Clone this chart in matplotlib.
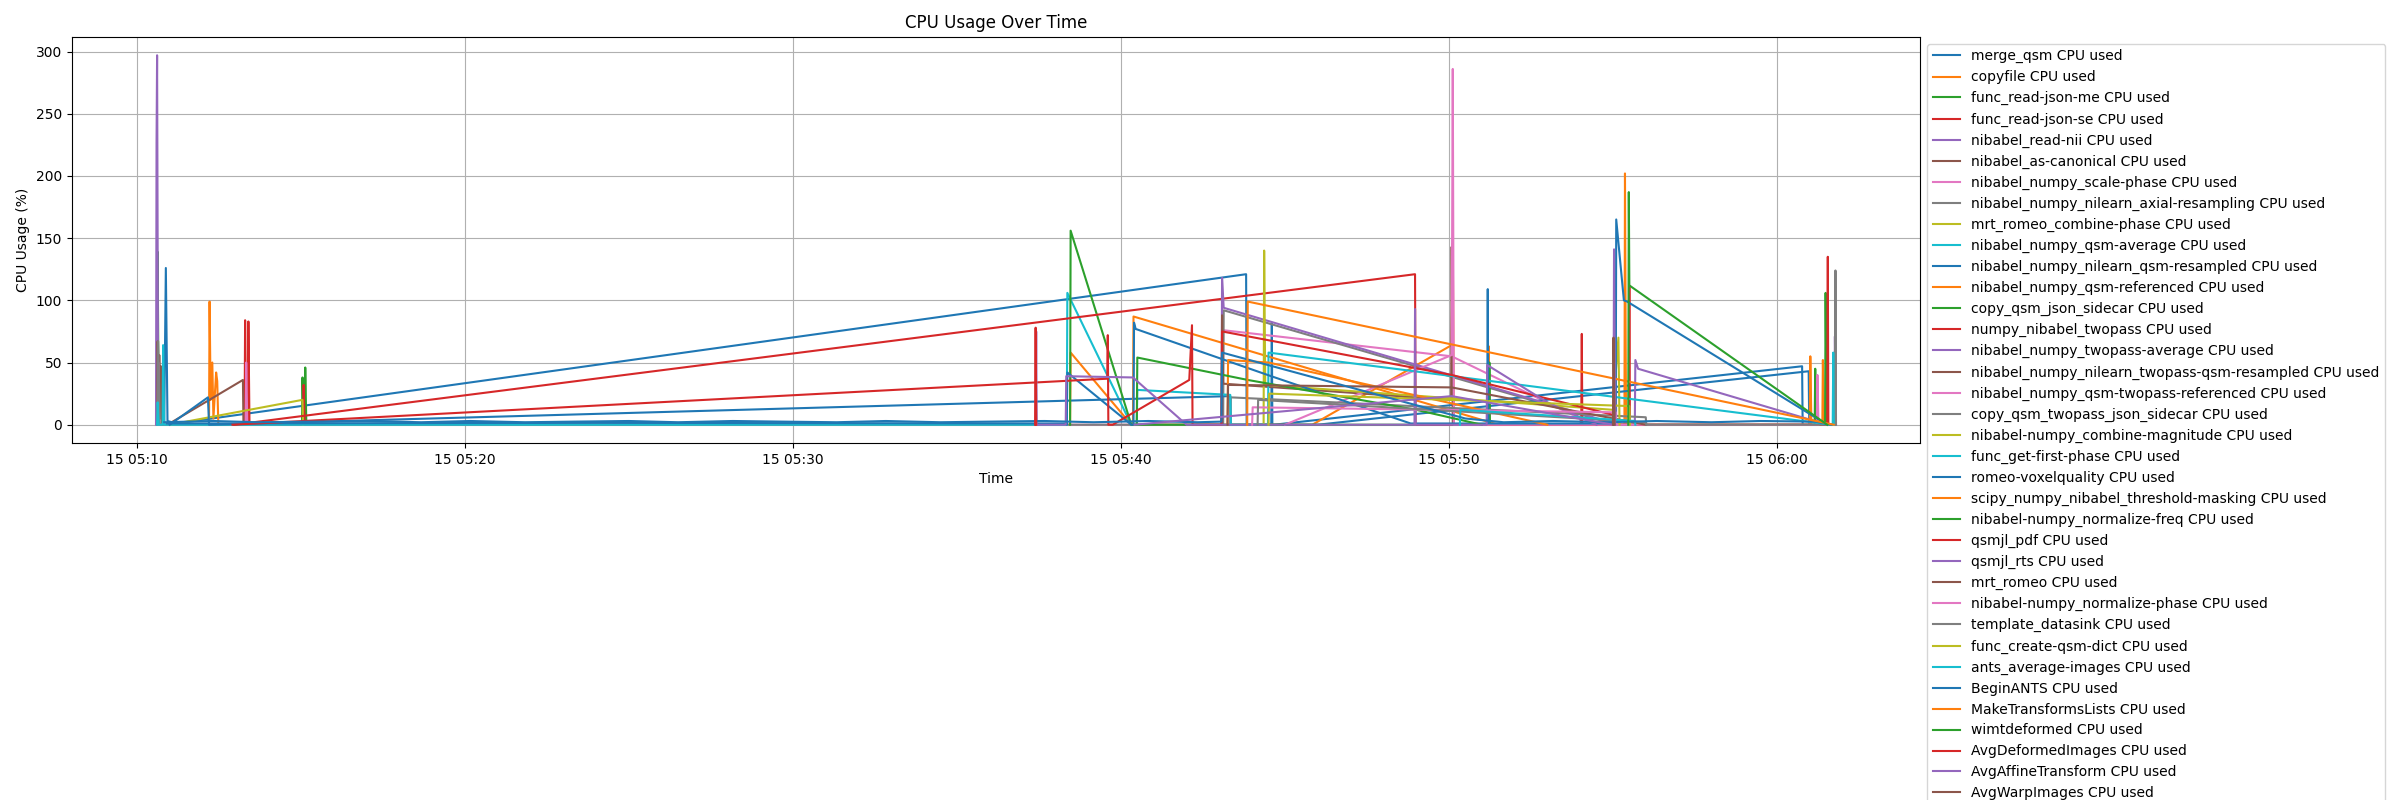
"""
CPU usage per workflow node over one pipeline run.
"""

import matplotlib

matplotlib.use("Agg")
import matplotlib.pyplot as plt
import pandas as pd

DAY = "2024-01-15 "

# ---- samples per node (time of sample, CPU %) ----
merge_qsm_t = ["05:10:50", "05:10:53", "05:10:56", "05:11:12", "05:43:49", "05:43:50",
               "05:44:35", "05:44:36", "05:44:37", "05:44:40", "06:00:46", "06:00:47"]
merge_qsm_cpu = [0, 126, 3, 1, 121, 0, 0, 82, 0, 0, 47, 0]

copyfile_t = ["05:12:12", "05:12:13", "05:12:15", "05:12:18", "05:12:20", "05:12:25", "05:12:27",
              "05:12:29", "05:38:27", "05:38:28", "05:40:19", "05:45:50", "05:50:05", "05:50:07",
              "05:50:09", "05:51:12", "05:51:13", "05:51:14", "05:55:21", "05:55:22", "05:55:24"]
copyfile_cpu = [0, 99, 20, 50, 5, 42, 35, 0, 0, 58, 0, 0, 64, 146, 0, 0, 63, 0, 0, 202, 0]

read_json_me_t = ["05:10:37", "05:10:38", "05:10:40", "05:15:02", "05:15:03", "05:15:05",
                  "05:15:07", "05:15:08", "05:15:10"]
read_json_me_cpu = [0, 139, 0, 0, 38, 0, 0, 46, 0]

read_json_se_t = ["05:13:17", "05:13:18", "05:13:20", "05:13:23", "05:13:24", "05:13:26",
                  "05:15:04", "05:15:05", "05:15:07"]
read_json_se_cpu = [0, 84, 0, 0, 83, 0, 0, 32, 0]

read_nii_t = ["05:10:35", "05:10:36", "05:10:37", "05:10:39", "05:10:45"]
read_nii_cpu = [0, 227, 297, 0, 0]

as_canonical_t = ["05:10:37", "05:10:38", "05:10:40", "05:10:41", "05:10:43", "05:10:44",
                  "05:10:46", "05:10:56", "05:13:14", "05:13:15"]
as_canonical_cpu = [0, 67, 10, 56, 5, 47, 0, 0, 36, 0]

scale_phase_t = ["05:10:38", "05:10:39", "05:10:41", "05:13:19", "05:13:20", "05:13:22",
                 "05:43:06", "05:43:07", "05:50:05", "05:54:00", "05:54:01"]
scale_phase_cpu = [0, 50, 0, 0, 50, 0, 0, 76, 55, 5, 0]

axial_resampling_t = ["05:10:38", "05:10:39", "05:10:42", "05:43:07", "05:43:08", "05:55:05"]
axial_resampling_cpu = [0, 67, 0, 0, 92, 0]

combine_phase_t = ["05:11:00", "05:15:03", "05:15:04"]
combine_phase_cpu = [0, 20, 0]

qsm_average_t = ["05:10:37", "05:10:38", "05:10:40", "05:10:47", "05:10:48", "05:10:50",
                 "05:38:21", "05:38:22", "05:40:19"]
qsm_average_cpu = [0, 18, 0, 0, 64, 0, 0, 106, 0]

qsm_resampled_t = ["05:11:00", "05:12:10", "05:12:12", "05:43:20", "05:43:21", "05:46:00",
                   "06:00:58", "06:00:59"]
qsm_resampled_cpu = [0, 22, 0, 23, 0, 0, 43, 0]

qsm_referenced_t = ["05:40:22", "05:40:23", "05:51:30", "06:01:00", "06:01:01", "06:01:03",
                    "06:01:23", "06:01:24", "06:01:26"]
qsm_referenced_cpu = [0, 87, 0, 0, 55, 0, 0, 52, 0]

json_sidecar_t = ["05:38:27", "05:38:28", "05:40:19", "05:51:13", "05:51:14", "05:51:15",
                  "06:01:09", "06:01:10", "06:01:12", "06:01:28", "06:01:29", "06:01:31"]
json_sidecar_cpu = [0, 156, 0, 0, 50, 0, 0, 45, 0, 0, 106, 0]

twopass_t = ["05:12:58", "05:48:58", "05:48:59", "05:54:02", "05:54:03", "05:54:04",
             "05:55:29", "05:55:30", "05:55:31", "06:01:32", "06:01:33", "06:01:34"]
twopass_cpu = [0, 121, 0, 0, 73, 0, 0, 112, 0, 0, 135, 0]

twopass_average_t = ["05:43:04", "05:43:05", "05:43:08", "05:55:10", "05:55:40", "05:55:41",
                     "05:55:46", "06:01:32", "06:01:45", "06:01:46", "06:01:48"]
twopass_average_cpu = [0, 118, 94, 0, 0, 52, 45, 0, 0, 71, 0]

twopass_resampled_t = ["05:43:04", "05:43:05", "05:43:07", "05:50:04", "05:50:05", "05:50:07"]
twopass_resampled_cpu = [0, 88, 33, 20, 143, 0]

twopass_referenced_t = ["05:45:00", "05:50:05", "05:50:07", "05:50:09", "05:55:03", "05:55:04",
                        "05:55:06", "06:01:13", "06:01:14", "06:01:16"]
twopass_referenced_cpu = [0, 56, 286, 0, 0, 111, 0, 0, 40, 0]

twopass_sidecar_t = ["05:43:20", "05:43:21", "05:56:00", "05:56:01", "06:01:46", "06:01:47",
                     "06:01:48"]
twopass_sidecar_cpu = [0, 22, 6, 0, 0, 124, 0]

combine_magnitude_t = ["05:44:21", "05:44:22", "05:44:24", "05:55:00", "05:55:10", "05:55:12"]
combine_magnitude_cpu = [0, 140, 32, 12, 70, 0]

first_phase_t = ["05:40:29", "05:40:30", "05:43:20", "05:43:21", "05:44:29", "05:44:30",
                 "06:01:40", "06:01:42", "06:01:43", "06:01:44"]
first_phase_cpu = [0, 28, 24, 0, 0, 58, 0, 0, 58, 0]

voxelquality_t = ["05:10:55", "05:24:00", "05:38:20", "05:38:21", "05:38:22", "05:40:19",
                  "05:40:23", "05:40:24", "05:40:27", "05:44:35", "05:48:50", "05:51:10",
                  "05:51:11", "05:51:12", "05:55:05", "05:55:06", "05:55:20", "05:55:26",
                  "06:01:32"]
voxelquality_cpu = [1, 1.5, 1, 0, 42, 0, 0, 82, 77, 39, 1, 1, 109, 1, 1, 165, 100, 99, 0]

threshold_masking_t = ["05:43:15", "05:43:16", "05:44:30", "05:53:00"]
threshold_masking_cpu = [0, 52, 50, 0]

normalize_freq_t = ["05:40:29", "05:40:30", "05:43:52", "05:49:00", "05:51:00"]
normalize_freq_cpu = [0, 54, 36, 12, 0]

qsmjl_pdf_t = ["05:12:55", "05:39:35", "05:39:36", "05:39:37", "05:39:45", "05:42:05",
               "05:42:10", "05:42:11", "05:43:04", "05:43:05", "05:50:05", "05:55:00", "05:55:01"]
qsmjl_pdf_cpu = [0, 37, 72, 0, 0, 36, 80, 0, 0, 75, 40, 8, 0]

qsmjl_rts_t = ["05:37:24", "05:37:25", "05:37:26", "05:38:19", "05:38:20", "05:40:22",
               "05:42:00", "05:48:57", "05:48:58", "05:48:59", "05:51:09", "05:51:10",
               "05:53:00", "05:54:30"]
qsmjl_rts_cpu = [0, 75, 0, 0, 39, 38, 0, 0, 93, 0, 0, 48, 18, 0]

mrt_romeo_t = ["05:43:15", "05:43:16", "05:50:05", "05:56:00"]
mrt_romeo_cpu = [0, 32, 30, 0]

normalize_phase_t = ["05:44:00", "05:44:01", "05:55:05", "05:55:06"]
normalize_phase_cpu = [0, 14, 10, 0]

datasink_t = ["05:44:10", "05:44:11", "05:56:00", "05:56:01"]
datasink_cpu = [0, 20, 2, 0]

qsm_dict_t = ["05:44:30", "05:44:31", "05:55:30", "05:55:31"]
qsm_dict_cpu = [0, 25, 15, 0]

ants_average_t = ["05:50:20", "05:50:21", "05:55:40", "05:55:41"]
ants_average_cpu = [0, 12, 3, 0]

begin_ants_t = ["05:10:50", "05:12:20", "05:13:40", "05:15:30", "05:17:00", "05:18:40",
                "05:20:10", "05:21:50", "05:23:20", "05:25:00", "05:26:30", "05:28:10",
                "05:29:40", "05:31:20", "05:32:50", "05:34:30", "05:36:00", "05:37:40",
                "05:39:10", "05:40:50", "05:42:20", "05:43:04", "05:43:05", "05:50:30",
                "05:51:40", "05:53:10", "05:54:50", "05:56:20", "05:58:00", "05:59:30",
                "06:01:10", "06:01:40"]
begin_ants_cpu = [2, 3, 2, 2.5, 3, 2, 3, 2, 2.5, 3, 2, 3, 2.5, 2, 3, 2, 2.5, 3, 2, 3, 2, 2.5,
                  58, 5, 2, 3, 2, 3, 2, 3, 2.5, 0]

transforms_lists_t = ["05:43:51", "05:43:52", "06:01:44"]
transforms_lists_cpu = [0, 99, 0]

wimtdeformed_t = ["05:55:28", "05:55:29", "05:55:30", "06:01:32"]
wimtdeformed_cpu = [0, 187, 112, 0]

avg_deformed_t = ["05:37:23", "05:37:24", "05:37:25"]
avg_deformed_cpu = [0, 78, 0]

avg_affine_t = ["05:40:25", "05:50:05", "05:55:01", "05:55:02", "05:55:04"]
avg_affine_cpu = [0, 23, 0, 141, 0]

avg_warp_t = ["05:55:00", "05:55:01", "05:55:03"]
avg_warp_cpu = [0, 70, 0]

nodes = [
    ("merge_qsm", merge_qsm_t, merge_qsm_cpu),
    ("copyfile", copyfile_t, copyfile_cpu),
    ("func_read-json-me", read_json_me_t, read_json_me_cpu),
    ("func_read-json-se", read_json_se_t, read_json_se_cpu),
    ("nibabel_read-nii", read_nii_t, read_nii_cpu),
    ("nibabel_as-canonical", as_canonical_t, as_canonical_cpu),
    ("nibabel_numpy_scale-phase", scale_phase_t, scale_phase_cpu),
    ("nibabel_numpy_nilearn_axial-resampling", axial_resampling_t, axial_resampling_cpu),
    ("mrt_romeo_combine-phase", combine_phase_t, combine_phase_cpu),
    ("nibabel_numpy_qsm-average", qsm_average_t, qsm_average_cpu),
    ("nibabel_numpy_nilearn_qsm-resampled", qsm_resampled_t, qsm_resampled_cpu),
    ("nibabel_numpy_qsm-referenced", qsm_referenced_t, qsm_referenced_cpu),
    ("copy_qsm_json_sidecar", json_sidecar_t, json_sidecar_cpu),
    ("numpy_nibabel_twopass", twopass_t, twopass_cpu),
    ("nibabel_numpy_twopass-average", twopass_average_t, twopass_average_cpu),
    ("nibabel_numpy_nilearn_twopass-qsm-resampled", twopass_resampled_t, twopass_resampled_cpu),
    ("nibabel_numpy_qsm-twopass-referenced", twopass_referenced_t, twopass_referenced_cpu),
    ("copy_qsm_twopass_json_sidecar", twopass_sidecar_t, twopass_sidecar_cpu),
    ("nibabel-numpy_combine-magnitude", combine_magnitude_t, combine_magnitude_cpu),
    ("func_get-first-phase", first_phase_t, first_phase_cpu),
    ("romeo-voxelquality", voxelquality_t, voxelquality_cpu),
    ("scipy_numpy_nibabel_threshold-masking", threshold_masking_t, threshold_masking_cpu),
    ("nibabel-numpy_normalize-freq", normalize_freq_t, normalize_freq_cpu),
    ("qsmjl_pdf", qsmjl_pdf_t, qsmjl_pdf_cpu),
    ("qsmjl_rts", qsmjl_rts_t, qsmjl_rts_cpu),
    ("mrt_romeo", mrt_romeo_t, mrt_romeo_cpu),
    ("nibabel-numpy_normalize-phase", normalize_phase_t, normalize_phase_cpu),
    ("template_datasink", datasink_t, datasink_cpu),
    ("func_create-qsm-dict", qsm_dict_t, qsm_dict_cpu),
    ("ants_average-images", ants_average_t, ants_average_cpu),
    ("BeginANTS", begin_ants_t, begin_ants_cpu),
    ("MakeTransformsLists", transforms_lists_t, transforms_lists_cpu),
    ("wimtdeformed", wimtdeformed_t, wimtdeformed_cpu),
    ("AvgDeformedImages", avg_deformed_t, avg_deformed_cpu),
    ("AvgAffineTransform", avg_affine_t, avg_affine_cpu),
    ("AvgWarpImages", avg_warp_t, avg_warp_cpu),
]

# ---- plot ----
fig = plt.figure(figsize=(24, 8))
for name, times, cpu in nodes:
    stamps = pd.to_datetime([DAY + t for t in times])
    plt.plot(stamps, cpu, label=f"{name} CPU used")

plt.title("CPU Usage Over Time")
plt.xlabel("Time")
plt.ylabel("CPU Usage (%)")
plt.grid(True)
plt.legend(loc="upper left", bbox_to_anchor=(1, 1))
plt.subplots_adjust(left=0.03, right=0.80, top=0.954, bottom=0.446)
plt.savefig("out.png", dpi=100)
plt.close()
